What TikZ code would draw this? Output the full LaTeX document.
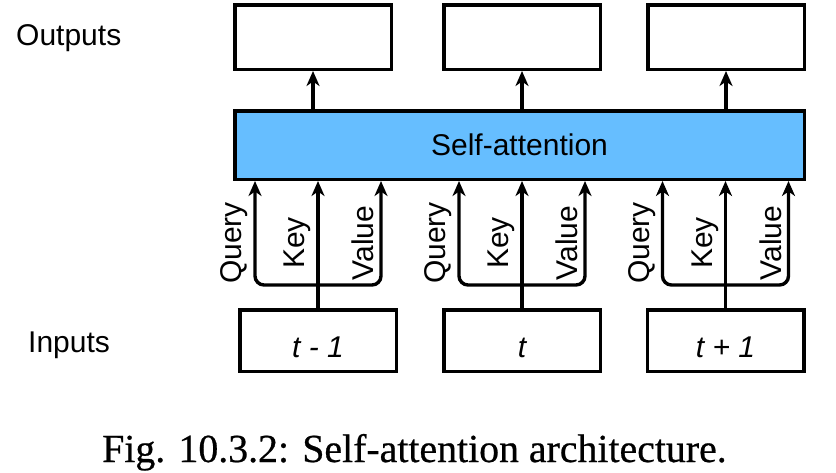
\documentclass[tikz,border=0pt]{standalone}
\usepackage{fontspec}
\setmainfont{Liberation Sans}
\newfontfamily\capfont[FakeBold=0.6]{Liberation Serif}
\usetikzlibrary{arrows.meta,calc}
\definecolor{attnblue}{RGB}{102,190,255}
\begin{document}
\begin{tikzpicture}[x=1pt,y=-1pt,
  box/.style={draw, line width=3.5pt, minimum width=156.5pt, minimum height=64.5pt, inner sep=0pt},
  inbox/.style={box, minimum height=61.5pt, text height=33pt, text depth=0pt,
    font=\fontsize{30}{36}\selectfont\itshape},
  arr/.style={line width=3.4pt, -{Stealth[length=15pt,width=13pt,inset=4.5pt]}},
  lbl/.style={font=\fontsize{30}{36}\selectfont, inner sep=0pt},
  vlbl/.style={lbl, rotate=90, anchor=south},
]
\useasboundingbox (0,0) rectangle (836,472);

% output boxes
\node[box] (o1) at (313,37) {};
\node[box] (o2) at (522,37) {};
\node[box] (o3) at (726,37) {};

% self-attention layer
\node[box, fill=attnblue, minimum width=569.5pt, minimum height=68.5pt,
  font=\fontsize{30}{36}\selectfont] (sa) at (519.5,145) {Self-attention};

% input boxes
\node[inbox] (in1) at (318,340.5) {t - 1};
\node[inbox] (in2) at (522,340.5) {t};
\node[inbox] (in3) at (725.5,340.5) {t + 1};

% row labels
\node[lbl, anchor=base west] (outlbl) at (16,45) {Outputs};
\node[lbl, anchor=base west] (inlbl) at (28,352) {Inputs};

% layer to outputs
\foreach \i in {1,2,3}
  \draw[arr] (o\i.south |- sa.north) -- (o\i.south);

% query / key / value branches
\coordinate (bar) at (0,285);
\coordinate (lbly) at (0,243);
\foreach \i in {1,2,3} {
  \coordinate (j\i) at (in\i.north |- bar);
  \coordinate (q\i) at ($(in\i.north |- sa.south)+(-63,0)$);
  \coordinate (v\i) at ($(in\i.north |- sa.south)+(63,0)$);
  \draw[arr] (in\i.north) -- (in\i.north |- sa.south);
  \draw[arr, rounded corners=9pt] (j\i) -| (q\i);
  \draw[arr, rounded corners=9pt] (j\i) -| (v\i);
  \node[vlbl] (ql\i) at ($(in\i.north |- lbly)+(-70,0)$) {Query};
  \node[vlbl] (kl\i) at ($(in\i.north |- lbly)+(-7,0)$) {Key};
  \node[vlbl] (vl\i) at ($(in\i.north |- lbly)+(56,0)$) {Value};
}

% caption
\node[font=\capfont\fontsize{39.8}{48}\selectfont, anchor=base west, inner sep=0pt]
  (cap) at (102,462) {Fig. 10.3.2: Self-attention architecture.};
\end{tikzpicture}
\end{document}
